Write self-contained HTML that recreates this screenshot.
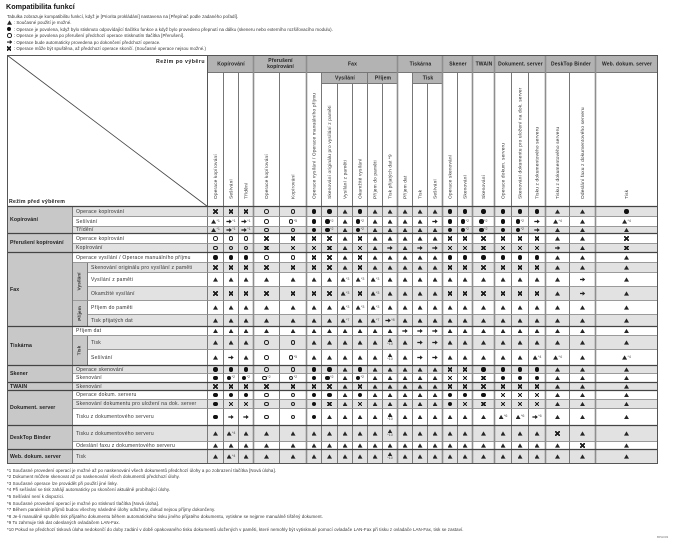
<!DOCTYPE html>
<html><head><meta charset="utf-8"><style>
*,*::before,*::after{margin:0;padding:0;box-sizing:border-box}
html,body{width:677px;height:544px;background:#fff;overflow:hidden}
body{position:relative;font-family:"Liberation Sans",Arial,sans-serif;color:#2a2a2a}
.ttl{position:absolute;left:6px;top:3px;font-size:7.2px;font-weight:bold;line-height:8px;color:#111;white-space:nowrap}
.intro{position:absolute;left:7px;top:12.8px;font-size:4.4px;letter-spacing:.05px;white-space:nowrap;color:#333}
.intro div{display:flex;align-items:center;height:6.5px}
.intro b{display:inline-flex;align-items:center;justify-content:flex-start;width:5.6px;margin-right:1.2px}
.foot{position:absolute;left:7px;top:467.7px;font-size:4.4px;line-height:6.6px;letter-spacing:.08px;white-space:nowrap;color:#333}
.code{position:absolute;left:657px;top:535px;font-size:3px;color:#777}
.grid{position:absolute;left:7px;top:207px;width:651px;height:257px;display:grid;
grid-template-columns:66px 15px 120px 16px 15px 15px 26px 27px 15px 16px 15px 15px 15px 15px 15px 15px 15px 15px 15px 22px 17px 17px 17px 24px 26px 62px;
grid-template-rows:10px 10px 7px 10px 9px 10px 10px 14px 14px 14px 12px 9px 14px 16px 8px 9px 8px 9px 9px 17px 16px 8px 14px}
.r{display:contents}
.r>*{border-right:1px solid #7a7a7a;border-bottom:1px solid #9a9a9a}
.w>*{background:#fff}
.k>*{background:#e2e2e2}
.r>.g,.r>.s{background:#c8c8c8}
.g{display:flex;align-items:center;padding-left:3px;font-weight:bold;font-size:5.2px;letter-spacing:.1px;white-space:nowrap;color:#222}
.s{display:flex;align-items:center;justify-content:center;font-weight:bold;font-size:4.8px;color:#333}
.s span{transform:rotate(-90deg);white-space:nowrap;display:block}
.l{display:flex;align-items:center;padding-left:3px;font-size:5px;letter-spacing:.25px;white-space:nowrap;overflow:hidden;color:#333}
.l2{grid-column:span 2}
.r>i{display:flex;align-items:center;justify-content:center;font-style:normal;font-size:3.6px;line-height:1;color:#444}
.T::before,.F::before,.O::before,.X::before,.A::before{content:"";display:block;flex:none;box-sizing:border-box}
.T::before{width:5px;height:4.3px;background:#262626;clip-path:polygon(50% 0,100% 100%,0 100%)}
.F::before{width:4.3px;height:4.3px;border-radius:50%;background:#111}
.O::before{width:4.6px;height:4.6px;border-radius:50%;border:1.3px solid #222}
.X::before{width:4.4px;height:4.4px;background:linear-gradient(45deg,transparent 38%,#222 38%,#222 62%,transparent 62%),linear-gradient(-45deg,transparent 38%,#222 38%,#222 62%,transparent 62%)}
.A::before{width:5.4px;height:4.2px;background:#222;clip-path:polygon(0 36%,52% 36%,52% 0,100% 50%,52% 100%,52% 64%,0 64%)}
.r>i:not(:empty)::before{margin-right:.4px}
.r>i.v{flex-direction:column}
.r>i.v::before{margin:0 0 .8px 0}
svg{position:absolute;left:0;top:0}
</style></head><body>
<div class="ttl">Kompatibilita funkcí</div>
<div class="intro">
<div>Tabulka zobrazuje kompatibilitu funkcí, když je [Priorita prokládání] nastavena na [Přepínač podle zadaného pořadí].</div>
<div><b class="T"></b>: Současné použití je možné.</div>
<div><b class="F"></b>: Operace je povolena, když bylo stisknuto odpovídající tlačítko funkce a když bylo provedeno přepnutí na dálku (skeneru nebo externího rozšiřovacího modulu).</div>
<div><b class="O"></b>: Operace je povolena po přerušení předchozí operace stisknutím tlačítka [Přerušení].</div>
<div><b class="A"></b>: Operace bude automaticky provedena po dokončení předchozí operace.</div>
<div><b class="X"></b>: Operace může být spuštěna, až předchozí operace skončí. (Současné operace nejsou možné.)</div>
</div>

<div class="grid">
<div class="r k"><div class="g" style="grid-row:span 3">Kopírování</div><div class="l l2">Operace kopírování</div><i class=X></i><i class=X></i><i class=X></i><i class=O></i><i class=O></i><i class=F></i><i class=F></i><i class=T></i><i class=F></i><i class=T></i><i class=T></i><i class=T></i><i class=T></i><i class=T></i><i class=F></i><i class=F></i><i class=F></i><i class=F></i><i class=F></i><i class=F></i><i class=T></i><i class=T></i><i class=F></i></div>
<div class="r w"><div class="l l2">Sešívání</div><i class=T>*1</i><i class=A>*1</i><i class=A>*1</i><i class=O></i><i class=O>*5</i><i class=F></i><i class=F>*2</i><i class=T></i><i class=F>*2</i><i class=T></i><i class=T></i><i class=T></i><i class=T></i><i class=A></i><i class=F></i><i class=F>*2</i><i class=F>*2</i><i class=F></i><i class=F>*2</i><i class=A></i><i class=T>*4</i><i class=T></i><i class=T>*4</i></div>
<div class="r k"><div class="l l2">Třídění</div><i class=T>*1</i><i class=A>*1</i><i class=A>*1</i><i class=O></i><i class=O></i><i class=F></i><i class=F>*2</i><i class=T></i><i class=F>*2</i><i class=T></i><i class=T></i><i class=T></i><i class=T></i><i class=T></i><i class=F></i><i class=F>*2</i><i class=F>*2</i><i class=F></i><i class=F>*2</i><i class=A></i><i class=T></i><i class=T></i><i class=T></i></div>
<div class="r w"><div class="g" style="grid-row:span 2">Přerušení kopírování</div><div class="l l2">Operace kopírování</div><i class=O></i><i class=O></i><i class=O></i><i class=X></i><i class=X></i><i class=X></i><i class=X></i><i class=T></i><i class=X></i><i class=T></i><i class=T></i><i class=T></i><i class=T></i><i class=T></i><i class=X></i><i class=X></i><i class=X></i><i class=X></i><i class=X></i><i class=X></i><i class=T></i><i class=T></i><i class=X></i></div>
<div class="r k"><div class="l l2">Kopírování</div><i class=O></i><i class=O></i><i class=O></i><i class=X></i><i class=X></i><i class=X></i><i class=X></i><i class=T></i><i class=X></i><i class=T></i><i class=A></i><i class=T></i><i class=A></i><i class=A></i><i class=X></i><i class=X></i><i class=X></i><i class=X></i><i class=X></i><i class=X></i><i class=A></i><i class=T></i><i class=X></i></div>
<div class="r w"><div class="g" style="grid-row:span 6">Fax</div><div class="l l2">Operace vysílání / Operace manuálního příjmu</div><i class=F></i><i class=F></i><i class=F></i><i class=O></i><i class=O></i><i class=X></i><i class=X></i><i class=T></i><i class=X></i><i class=T></i><i class=T></i><i class=T></i><i class=T></i><i class=T></i><i class=F></i><i class=F></i><i class=F></i><i class=F></i><i class=F></i><i class=F></i><i class=T></i><i class=T></i><i class=T></i></div>
<div class="r k"><div class="s" style="grid-row:span 3"><span>Vysílání</span></div><div class="l">Skenování originálu pro vysílání z paměti</div><i class=X></i><i class=X></i><i class=X></i><i class=X></i><i class=X></i><i class=X></i><i class=X></i><i class=T></i><i class=X></i><i class=T></i><i class=T></i><i class=T></i><i class=T></i><i class=T></i><i class=X></i><i class=X></i><i class=X></i><i class=X></i><i class=X></i><i class=X></i><i class=T></i><i class=T></i><i class=T></i></div>
<div class="r w"><div class="l">Vysílání z paměti</div><i class=T></i><i class=T></i><i class=T></i><i class=T></i><i class=T></i><i class=T></i><i class=T></i><i class=T>*3</i><i class=T>*3</i><i class=T>*3</i><i class=T></i><i class=T></i><i class=T></i><i class=T></i><i class=T></i><i class=T></i><i class=T></i><i class=T></i><i class=T></i><i class=T></i><i class=T></i><i class=A></i><i class=T></i></div>
<div class="r k"><div class="l">Okamžité vysílání</div><i class=X></i><i class=X></i><i class=X></i><i class=X></i><i class=X></i><i class=X></i><i class=X></i><i class=T>*3</i><i class=X></i><i class=T>*3</i><i class=T></i><i class=T></i><i class=T></i><i class=T></i><i class=X></i><i class=X></i><i class=X></i><i class=X></i><i class=X></i><i class=X></i><i class=T></i><i class=A></i><i class=T></i></div>
<div class="r w"><div class="s" style="grid-row:span 2"><span>Příjem</span></div><div class="l">Příjem do paměti</div><i class=T></i><i class=T></i><i class=T></i><i class=T></i><i class=T></i><i class=T></i><i class=T></i><i class=T>*3</i><i class=T>*3</i><i class=T>*3</i><i class=T></i><i class=T></i><i class=T></i><i class=T></i><i class=T></i><i class=T></i><i class=T></i><i class=T></i><i class=T></i><i class=T></i><i class=T></i><i class=T></i><i class=T></i></div>
<div class="r k"><div class="l">Tisk přijatých dat</div><i class=T></i><i class=T></i><i class=T></i><i class=T></i><i class=T></i><i class=T></i><i class=T></i><i class=T>*7</i><i class=T></i><i class=T>*7</i><i class=A>*8</i><i class=T></i><i class=T></i><i class=T></i><i class=T></i><i class=T></i><i class=T></i><i class=T></i><i class=T></i><i class=T></i><i class=T></i><i class=T></i><i class=T></i></div>
<div class="r w"><div class="g" style="grid-row:span 3">Tiskárna</div><div class="l l2">Příjem dat</div><i class=T></i><i class=T></i><i class=T></i><i class=T></i><i class=T></i><i class=T></i><i class=T></i><i class=T></i><i class=T></i><i class=T></i><i class=T></i><i class=A></i><i class=A></i><i class=A></i><i class=T></i><i class=T></i><i class=T></i><i class=T></i><i class=T></i><i class=T></i><i class=T></i><i class=T></i><i class=T></i></div>
<div class="r k"><div class="s" style="grid-row:span 2"><span>Tisk</span></div><div class="l">Tisk</div><i class=T></i><i class=T></i><i class=T></i><i class=O></i><i class=O></i><i class=T></i><i class=T></i><i class=T></i><i class=T></i><i class=T></i><i class="T v">*10</i><i class=T></i><i class=A></i><i class=A></i><i class=T></i><i class=T></i><i class=T></i><i class=T></i><i class=T></i><i class=T></i><i class=T></i><i class=T></i><i class=T></i></div>
<div class="r w"><div class="l">Sešívání</div><i class=T></i><i class=A></i><i class=T></i><i class=O></i><i class=O>*5</i><i class=T></i><i class=T></i><i class=T></i><i class=T></i><i class=T></i><i class="T v">*10</i><i class=T></i><i class=A></i><i class=A></i><i class=T></i><i class=T></i><i class=T></i><i class=T></i><i class=T></i><i class=T>*4</i><i class=T>*4</i><i class=T></i><i class=T>*4</i></div>
<div class="r k"><div class="g" style="grid-row:span 2">Skener</div><div class="l l2">Operace skenování</div><i class=F></i><i class=F></i><i class=F></i><i class=O></i><i class=O></i><i class=F></i><i class=F></i><i class=T></i><i class=F></i><i class=T></i><i class=T></i><i class=T></i><i class=T></i><i class=T></i><i class=X></i><i class=X></i><i class=F></i><i class=F></i><i class=F></i><i class=F></i><i class=T></i><i class=T></i><i class=T></i></div>
<div class="r w"><div class="l l2">Skenování</div><i class=F></i><i class=F>*2</i><i class=F>*2</i><i class=O>*2</i><i class=O>*2</i><i class=F></i><i class=F>*2</i><i class=T></i><i class=F>*2</i><i class=T></i><i class=T></i><i class=T></i><i class=T></i><i class=T></i><i class=X></i><i class=X></i><i class=X></i><i class=F></i><i class=F></i><i class=F></i><i class=T></i><i class=T></i><i class=T></i></div>
<div class="r k"><div class="g">TWAIN</div><div class="l l2">Skenování</div><i class=X></i><i class=X></i><i class=X></i><i class=X></i><i class=X></i><i class=X></i><i class=X></i><i class=T></i><i class=X></i><i class=T></i><i class=T></i><i class=T></i><i class=T></i><i class=T></i><i class=X></i><i class=X></i><i class=X></i><i class=X></i><i class=X></i><i class=X></i><i class=T></i><i class=T></i><i class=T></i></div>
<div class="r w"><div class="g" style="grid-row:span 3">Dokument. server</div><div class="l l2">Operace dokum. serveru</div><i class=F></i><i class=F></i><i class=F></i><i class=O></i><i class=O></i><i class=F></i><i class=F></i><i class=T></i><i class=F></i><i class=T></i><i class=T></i><i class=T></i><i class=T></i><i class=T></i><i class=F></i><i class=F></i><i class=F></i><i class=X></i><i class=X></i><i class=X></i><i class=T></i><i class=T></i><i class=T></i></div>
<div class="r k"><div class="l l2">Skenování dokumentu pro uložení na dok. server</div><i class=F></i><i class=X></i><i class=X></i><i class=O></i><i class=O></i><i class=F></i><i class=X></i><i class=T></i><i class=X></i><i class=T></i><i class=T></i><i class=T></i><i class=T></i><i class=T></i><i class=F></i><i class=X></i><i class=X></i><i class=X></i><i class=X></i><i class=X></i><i class=T></i><i class=T></i><i class=T></i></div>
<div class="r w"><div class="l l2">Tisku z dokumentového serveru</div><i class=F></i><i class=A></i><i class=A></i><i class=O></i><i class=O></i><i class=F></i><i class=T></i><i class=T></i><i class=T></i><i class=T></i><i class="T v">*10</i><i class=T></i><i class=T></i><i class=T></i><i class=T></i><i class=T></i><i class=T></i><i class=T>*6</i><i class=T>*6</i><i class=A>*6</i><i class=T></i><i class=T></i><i class=T></i></div>
<div class="r k"><div class="g" style="grid-row:span 2">DeskTop Binder</div><div class="l l2">Tisku z dokumentového serveru</div><i class=T></i><i class=T>*4</i><i class=T></i><i class=T></i><i class=T></i><i class=T></i><i class=T></i><i class=T></i><i class=T></i><i class=T></i><i class="T v">*10</i><i class=T></i><i class=T></i><i class=T></i><i class=T></i><i class=T></i><i class=T></i><i class=T></i><i class=T></i><i class=T></i><i class=X></i><i class=T></i><i class=T></i></div>
<div class="r w"><div class="l l2">Odeslání faxu z dokumentového serveru</div><i class=T></i><i class=T></i><i class=T></i><i class=T></i><i class=T></i><i class=T></i><i class=T></i><i class=T></i><i class=T></i><i class=T></i><i class=T></i><i class=T></i><i class=T></i><i class=T></i><i class=T></i><i class=T></i><i class=T></i><i class=T></i><i class=T></i><i class=T></i><i class=T></i><i class=X></i><i class=T></i></div>
<div class="r k"><div class="g">Web. dokum. server</div><div class="l l2">Tisk</div><i class=T></i><i class=T>*4</i><i class=T></i><i class=T></i><i class=T></i><i class=T></i><i class=T></i><i class=T></i><i class=T></i><i class=T></i><i class="T v">*10</i><i class=T></i><i class=T></i><i class=T></i><i class=T></i><i class=T></i><i class=T></i><i class=T></i><i class=T></i><i class=T></i><i class=T></i><i class=T></i><i class=T></i></div>
</div>

<svg width="677" height="544" viewBox="0 0 677 544" font-family="Liberation Sans, Arial, sans-serif">
<rect x="208" y="55" width="450" height="17.5" fill="#b3b3b3"/>
<rect x="322" y="72" width="76" height="11.5" fill="#b3b3b3"/>
<rect x="413" y="72" width="30" height="11.5" fill="#b3b3b3"/>
<line x1="7.5" y1="55.5" x2="207.5" y2="206.5" stroke="#444" stroke-width=".8"/>
<g stroke="#777" stroke-width="1" fill="none">
<path d="M208 72.5H658M322 83.5H398M413 83.5H443"/>
<path d="M223.5 72V207M238.5 72V207M279.5 72V207M321.5 72V207M367.5 72V207M412.5 72V207M457.5 72V207M511.5 72V207M528.5 72V207M569.5 72V207M337.5 83V207M352.5 83V207M382.5 83V207M427.5 83V207"/>
</g>
<path d="M253.5 55V464M306.5 55V464M397.5 55V464M442.5 55V464M472.5 55V464M494.5 55V464M545.5 55V464M595.5 55V464" stroke="#8e8e8e" stroke-width="1.6" fill="none"/>
<path d="M207.5 55V207" stroke="#555" fill="none"/>
<path d="M7 206.5H658M7 233.5H658M7 252.5H658M7 326.5H658M7 365.5H658M7 382.5H658M7 390.5H658M7 425.5H658M7 449.5H658" stroke="#444" stroke-width="1.2" fill="none"/>
<rect x="7.5" y="55.5" width="650" height="408" fill="none" stroke="#555"/>

<g font-weight="bold" font-size="5.2" fill="#222">
<text x="205" y="62.8" text-anchor="end" style="letter-spacing:.5px">Režim po výběru</text>
<text x="9" y="202.8" style="letter-spacing:.3px">Režim před výběrem</text>
</g>
<g font-weight="bold" font-size="5" fill="#222" text-anchor="middle" style="letter-spacing:.15px">
<text x="231" y="65.3">Kopírování</text>
<text x="280.5" y="62.2">Přerušení</text>
<text x="280.5" y="68">kopírování</text>
<text x="352.5" y="65.3">Fax</text>
<text x="420.5" y="65.3">Tiskárna</text>
<text x="458" y="65.3">Skener</text>
<text x="484" y="65.3">TWAIN</text>
<text x="520.5" y="65.3">Dokument. server</text>
<text x="571" y="65.3">DeskTop Binder</text>
<text x="627" y="65.3">Web. dokum. server</text>
<text x="345" y="79.6">Vysílání</text>
<text x="383" y="79.6">Příjem</text>
<text x="428" y="79.6">Tisk</text>
</g>
<g font-size="4.8" fill="#333" dominant-baseline="central" style="letter-spacing:.15px">
<text transform="translate(216.5,199) rotate(-90)">Operace kopírování</text>
<text transform="translate(232,199) rotate(-90)">Sešívání</text>
<text transform="translate(247,199) rotate(-90)">Třídění</text>
<text transform="translate(267.5,199) rotate(-90)">Operace kopírování</text>
<text transform="translate(294,199) rotate(-90)">Kopírování</text>
<text transform="translate(315,199) rotate(-90)">Operace vysílání / Operace manuálního příjmu</text>
<text transform="translate(330.5,199) rotate(-90)">Skenování originálu pro vysílání z paměti</text>
<text transform="translate(346,199) rotate(-90)">Vysílání z paměti</text>
<text transform="translate(361,199) rotate(-90)">Okamžité vysílání</text>
<text transform="translate(376,199) rotate(-90)">Příjem do paměti</text>
<text transform="translate(391,199) rotate(-90)">Tisk přijatých dat *9</text>
<text transform="translate(406,199) rotate(-90)">Příjem dat</text>
<text transform="translate(421,199) rotate(-90)">Tisk</text>
<text transform="translate(436,199) rotate(-90)">Sešívání</text>
<text transform="translate(451,199) rotate(-90)">Operace skenování</text>
<text transform="translate(466,199) rotate(-90)">Skenování</text>
<text transform="translate(484.5,199) rotate(-90)">Skenování</text>
<text transform="translate(504,199) rotate(-90)">Operace dokum. serveru</text>
<text transform="translate(521,199) rotate(-90)">Skenování dokumentu pro uložení na dok. server</text>
<text transform="translate(538,199) rotate(-90)">Tisku z dokumentového serveru</text>
<text transform="translate(558.5,199) rotate(-90)">Tisku z dokumentového serveru</text>
<text transform="translate(583.5,199) rotate(-90)">Odeslání faxu z dokumentového serveru</text>
<text transform="translate(627.5,199) rotate(-90)">Tisk</text>
</g>
</svg>

<div class="foot">
<div>*1 Současné provedení operací je možné až po naskenování všech dokumentů předchozí úlohy a po zobrazení tlačítka [Nová úloha].</div>
<div>*2 Dokument můžete skenovat až po naskenování všech dokumentů předchozí úlohy.</div>
<div>*3 Současné operace lze provádět při použití jiné linky.</div>
<div>*4 Při sešívání se tisk zahájí automaticky po skončení aktuálně probíhající úlohy.</div>
<div>*5 Sešívání není k dispozici.</div>
<div>*6 Současné provedení operací je možné po stisknutí tlačítka [Nová úloha].</div>
<div>*7 Během paralelních příjmů budou všechny následné úlohy odloženy, dokud nejsou příjmy dokončeny.</div>
<div>*8 Je-li manuálně spuštěn tisk přijatého dokumentu během automatického tisku jiného přijatého dokumentu, vytiskne se nejprve manuálně tištěný dokument.</div>
<div>*9 To zahrnuje tisk dat odeslaných ovladačem LAN-Fax.</div>
<div>*10 Pokud se předchozí tisková úloha nedokončí do doby zadání v době opakovaného tisku dokumentů uložených v paměti, které nemohly být vytisknuté pomocí ovladače LAN-Fax při tisku z ovladače LAN-Fax, tisk se zastaví.</div>
</div>
<div class="code">BPH003</div>
</body></html>
